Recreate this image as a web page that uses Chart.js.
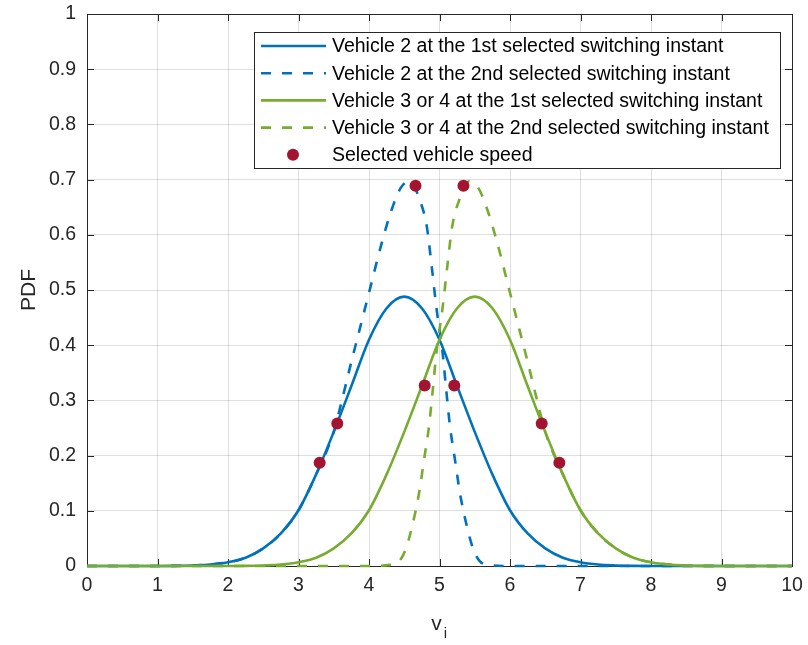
<!DOCTYPE html>
<html><head><meta charset="utf-8">
<script src="https://cdn.jsdelivr.net/npm/chart.js@4.4.0/dist/chart.umd.min.js"></script>
<style>html,body{margin:0;padding:0;background:#fff}#wrap{width:808px;height:645px}</style>
</head><body><div id="wrap"><canvas id="c" width="808" height="645"></canvas></div>
<script>
const xTicks = [0, 1, 2, 3, 4, 5, 6, 7, 8, 9, 10];
const xTickLabels = ['0', '1', '2', '3', '4', '5', '6', '7', '8', '9', '10'];
const yTicks = [0, 0.1, 0.2, 0.3, 0.4, 0.5, 0.6, 0.7, 0.8, 0.9, 1];
const yTickLabels = ['0', '0.1', '0.2', '0.3', '0.4', '0.5', '0.6', '0.7', '0.8', '0.9', '1'];
const seriesNames = [
  'Vehicle 2 at the 1st selected switching instant',
  'Vehicle 2 at the 2nd selected switching instant',
  'Vehicle 3 or 4 at the 1st selected switching instant',
  'Vehicle 3 or 4 at the 2nd selected switching instant',
  'Selected vehicle speed'
];
const xTitle = 'v';
const xTitleSub = 'i';
const yTitle = 'PDF';

const gridX = [0, 0.25, 0.5, 0.75, 1, 1.25, 1.5, 1.75, 2, 2.25, 2.5, 2.75, 3, 3.25, 3.5, 3.75, 4, 4.25, 4.5, 4.75, 5,
  5.25, 5.5, 5.75, 6, 6.25, 6.5, 6.75, 7, 7.25, 7.5, 7.75, 8, 8.25, 8.5, 8.75, 9, 9.25, 9.5, 9.75, 10];
const v2First = [0, 0, 0, 0, 0.0001, 0.0003, 0.001, 0.0026, 0.0068, 0.015, 0.032, 0.059, 0.101, 0.166, 0.243, 0.326, 0.410, 0.467, 0.488, 0.467, 0.410,
  0.326, 0.243, 0.166, 0.101, 0.059, 0.032, 0.015, 0.0068, 0.0026, 0.001, 0.0003, 0.0001, 0, 0, 0, 0, 0, 0, 0, 0];
const v3First = [0, 0, 0, 0, 0, 0, 0, 0, 0.0001, 0.0003, 0.001, 0.0026, 0.0068, 0.015, 0.032, 0.059, 0.101, 0.166, 0.243, 0.326, 0.410,
  0.467, 0.488, 0.467, 0.410, 0.326, 0.243, 0.166, 0.101, 0.059, 0.032, 0.015, 0.0068, 0.0026, 0.001, 0.0003, 0.0001, 0, 0, 0, 0];

const v2SecondX = [0, 0.5, 1, 1.5, 2, 2.25, 2.5, 2.75, 3, 3.25, 3.5, 3.6, 3.75, 3.87, 4.0, 4.18, 4.32, 4.45, 4.58, 4.72, 4.82, 4.89, 4.96,
  5.04, 5.1, 5.15, 5.22, 5.29, 5.39, 5.48, 5.57, 5.7, 6, 7, 8, 9, 10];
const v2Second = [0, 0, 0.0001, 0.001, 0.0068, 0.015, 0.032, 0.059, 0.101, 0.166, 0.243, 0.292, 0.370, 0.430, 0.495, 0.585, 0.645, 0.685, 0.697, 0.663, 0.615, 0.542, 0.464,
  0.391, 0.313, 0.252, 0.192, 0.132, 0.071, 0.030, 0.009, 0.002, 0, 0, 0, 0, 0];
const v3SecondX = [0, 1, 2, 3, 4, 4.3, 4.43, 4.52, 4.61, 4.71, 4.78, 4.85, 4.9, 4.96, 5.04, 5.11, 5.18, 5.28, 5.42, 5.55, 5.68, 5.82,
  6.0, 6.13, 6.25, 6.4, 6.5, 6.75, 7, 7.25, 7.5, 7.75, 8, 8.5, 9, 9.5, 10];
const v3Second = [0, 0, 0, 0, 0, 0.002, 0.009, 0.030, 0.071, 0.132, 0.192, 0.252, 0.313, 0.391, 0.464, 0.542, 0.615, 0.663, 0.697, 0.685, 0.645, 0.585,
  0.495, 0.430, 0.370, 0.292, 0.243, 0.166, 0.101, 0.059, 0.032, 0.015, 0.0068, 0.001, 0.0001, 0, 0];

const speedX = [3.30, 3.55, 4.66, 4.79, 5.21, 5.34, 6.45, 6.70];
const speedY = [0.187, 0.258, 0.689, 0.327, 0.327, 0.689, 0.258, 0.187];

const BLUE = '#0072BD', GREEN = '#77AC30', RED = '#A2142F', AX = '#262626';
const FONT = '"Liberation Sans", Arial, Helvetica, sans-serif';
const DASH = [10, 11];
const pts = (xs, ys) => xs.map((x, i) => ({ x: x, y: ys[i] }));

const lineBase = { pointRadius: 0, borderWidth: 2.6, fill: false, cubicInterpolationMode: 'monotone', clip: 6, showLine: true };
const datasets = [
  Object.assign({ label: seriesNames[0], data: pts(gridX, v2First), borderColor: BLUE, order: 4 }, lineBase),
  Object.assign({ label: seriesNames[1], data: pts(v2SecondX, v2Second), borderColor: BLUE, borderDash: DASH, order: 3 }, lineBase),
  Object.assign({ label: seriesNames[2], data: pts(gridX, v3First), borderColor: GREEN, order: 2 }, lineBase),
  Object.assign({ label: seriesNames[3], data: pts(v3SecondX, v3Second), borderColor: GREEN, borderDash: DASH, order: 1 }, lineBase),
  { label: seriesNames[4], data: pts(speedX, speedY), showLine: false, pointRadius: 6, pointHoverRadius: 6,
    pointBackgroundColor: RED, pointBorderColor: RED, borderColor: RED, backgroundColor: RED, pointBorderWidth: 0, order: 0, clip: 8 }
];

const framePlugin = {
  id: 'frame',
  beforeDatasetsDraw(chart) {
    const { ctx, chartArea: a, scales } = chart;
    ctx.save();
    ctx.strokeStyle = AX; ctx.lineWidth = 1;
    const tl = 7;
    ctx.beginPath();
    xTicks.forEach(v => {
      const px = Math.round(scales.x.getPixelForValue(v)) + 0.5;
      ctx.moveTo(px, a.bottom); ctx.lineTo(px, a.bottom - tl);
      ctx.moveTo(px, a.top); ctx.lineTo(px, a.top + tl);
    });
    yTicks.forEach(v => {
      const py = Math.round(scales.y.getPixelForValue(v)) + 0.5;
      ctx.moveTo(a.left, py); ctx.lineTo(a.left + tl, py);
      ctx.moveTo(a.right, py); ctx.lineTo(a.right - tl, py);
    });
    ctx.stroke();
    ctx.strokeRect(Math.round(a.left) + 0.5, Math.round(a.top) + 0.5, Math.round(a.right - a.left), Math.round(a.bottom - a.top));
    ctx.restore();
  },
  afterDraw(chart) {
    const { ctx, chartArea: a } = chart;
    ctx.save();
    ctx.fillStyle = AX;
    ctx.font = '21px ' + FONT;
    ctx.textAlign = 'center'; ctx.textBaseline = 'alphabetic';
    const cx = (a.left + a.right) / 2;
    ctx.fillText(xTitle, cx - 3, 630);
    ctx.font = '15px ' + FONT;
    ctx.fillText(xTitleSub, cx + 6, 638);
    ctx.translate(35, (a.top + a.bottom) / 2);
    ctx.rotate(-Math.PI / 2);
    ctx.font = '21px ' + FONT;
    ctx.fillText(yTitle, 0, 0);
    ctx.restore();

    ctx.save();
    const L = 254, T = 32, R = 780, B = 168;
    ctx.fillStyle = '#fff';
    ctx.fillRect(L, T, R - L, B - T);
    ctx.strokeStyle = AX; ctx.lineWidth = 1;
    ctx.strokeRect(L + 0.5, T + 0.5, R - L, B - T);
    const rowH = 27.2, y0 = 46;
    ctx.font = '19.5px ' + FONT;
    ctx.textAlign = 'left'; ctx.textBaseline = 'middle';
    chart.data.datasets.forEach((ds, i) => {
      const y = y0 + i * rowH;
      if (ds.showLine === false) {
        ctx.fillStyle = RED;
        ctx.beginPath(); ctx.arc(293, y, 6, 0, Math.PI * 2); ctx.fill();
      } else {
        ctx.strokeStyle = ds.borderColor; ctx.lineWidth = ds.borderWidth;
        ctx.setLineDash(ds.borderDash || []);
        ctx.beginPath(); ctx.moveTo(261, y); ctx.lineTo(326, y); ctx.stroke();
        ctx.setLineDash([]);
      }
      ctx.fillStyle = '#000';
      ctx.fillText(ds.label, 332, y + 1);
    });
    ctx.restore();
  }
};

new Chart(document.getElementById('c'), {
  type: 'line',
  data: { datasets: datasets },
  options: {
    responsive: false, animation: false, devicePixelRatio: 1,
    layout: { padding: { top: 14, right: 16, left: 0, bottom: 0 } },
    plugins: { legend: { display: false }, tooltip: { enabled: false } },
    scales: {
      x: {
        type: 'linear', min: 0, max: 10,
        afterBuildTicks: s => { s.ticks = xTicks.map(v => ({ value: v })); },
        afterFit: s => { s.height = 79; s.paddingLeft = 0; s.paddingRight = 0; },
        ticks: { callback: (v, i) => xTickLabels[i], font: { size: 19.5, family: FONT }, color: AX, padding: 8, maxRotation: 0 },
        grid: { color: 'rgba(38,38,38,0.15)', drawTicks: false },
        border: { display: false }
      },
      y: {
        type: 'linear', min: 0, max: 1,
        afterBuildTicks: s => { s.ticks = yTicks.map(v => ({ value: v })); },
        afterFit: s => { s.width = 87; s.paddingTop = 0; s.paddingBottom = 0; },
        ticks: { callback: (v, i) => yTickLabels[i], font: { size: 19.5, family: FONT }, color: AX, padding: 11 },
        grid: { color: 'rgba(38,38,38,0.15)', drawTicks: false },
        border: { display: false }
      }
    }
  },
  plugins: [framePlugin]
});
</script></body></html>
